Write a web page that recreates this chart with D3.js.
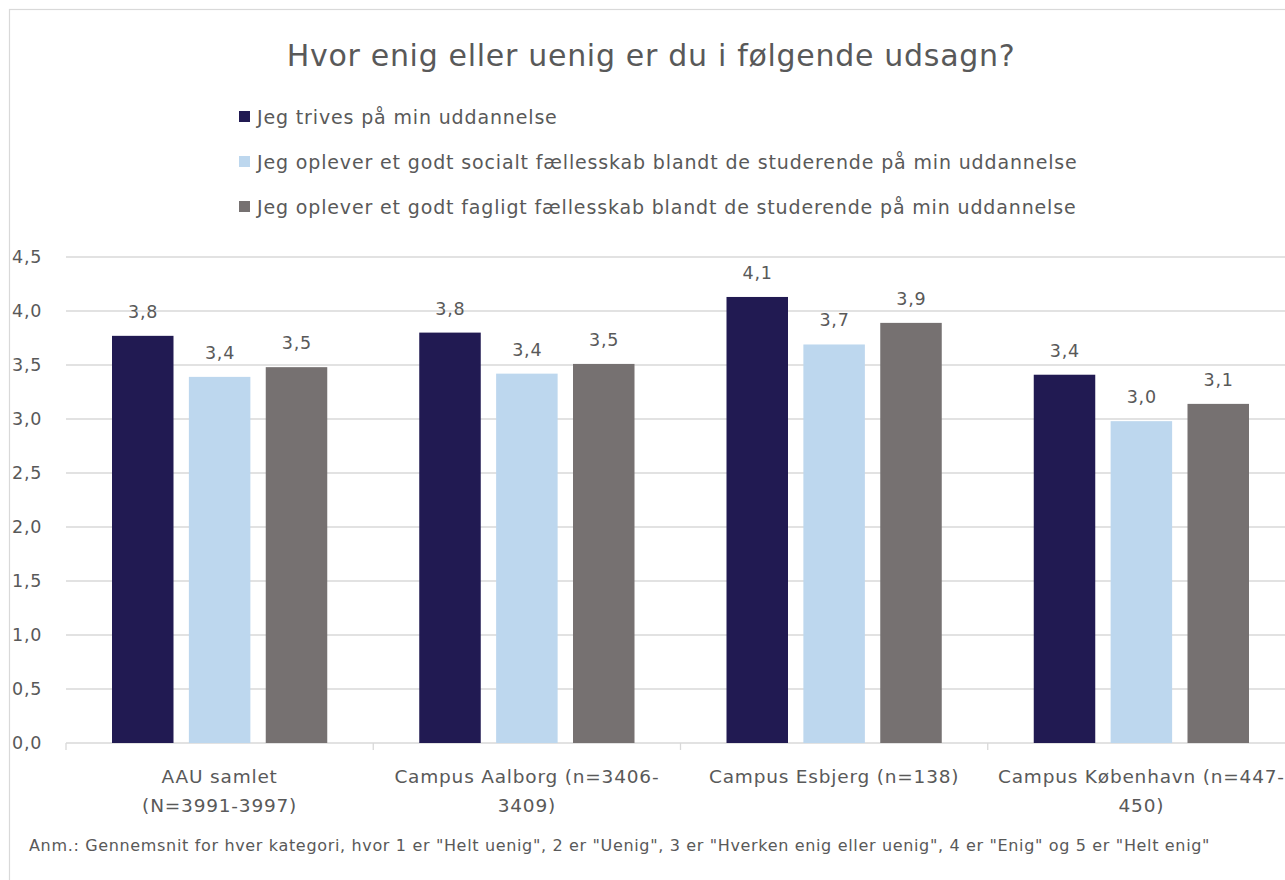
<!DOCTYPE html>
<html>
<head>
<meta charset="utf-8">
<script src="https://cdn.jsdelivr.net/npm/d3@7"></script>
<style>
html,body{margin:0;padding:0;background:#fff;overflow:hidden;}
svg{display:block;}
text{font-family:"DejaVu Sans",sans-serif;fill:#595959;letter-spacing:0.8px;}
</style>
</head>
<body>
<svg id="chart" width="1285" height="880"></svg>
<script>
const title = "Hvor enig eller uenig er du i følgende udsagn?";
const categories = ["AAU samlet", "Campus Aalborg", "Campus Esbjerg", "Campus København"];
const categoryLabelLines = [
  ["AAU samlet", "(N=3991-3997)"],
  ["Campus Aalborg (n=3406-", "3409)"],
  ["Campus Esbjerg (n=138)"],
  ["Campus København (n=447-", "450)"]
];
const seriesNames = [
  "Jeg trives på min uddannelse",
  "Jeg oplever et godt socialt fællesskab blandt de studerende på min uddannelse",
  "Jeg oplever et godt fagligt fællesskab blandt de studerende på min uddannelse"
];
const trives = [3.77, 3.80, 4.13, 3.41];
const socialt = [3.39, 3.42, 3.69, 2.98];
const fagligt = [3.48, 3.51, 3.89, 3.14];
const seriesColors = ["#211A52", "#BDD7EE", "#767171"];
const yTicks = [0, 0.5, 1, 1.5, 2, 2.5, 3, 3.5, 4, 4.5];
const note = "Anm.: Gennemsnit for hver kategori, hvor 1 er \"Helt uenig\", 2 er \"Uenig\", 3 er \"Hverken enig eller uenig\", 4 er \"Enig\" og 5 er \"Helt enig\"";

const seriesValues = [trives, socialt, fagligt];
const fmt = v => d3.format(".1f")(v).replace(".", ",");

const svg = d3.select("#chart");

// frame
svg.append("rect").attr("x", 9.5).attr("y", 9.5).attr("width", 1300).attr("height", 900)
  .attr("fill", "#fff").attr("stroke", "#D9D9D9").attr("stroke-width", 1.2);

// title
svg.append("text").attr("x", 651).attr("y", 66).attr("text-anchor", "middle")
  .style("font-size", "30px").style("letter-spacing", "0.7px").text(title);

// legend
const legendY = [117, 162, 207];
seriesNames.forEach((n, i) => {
  svg.append("rect").attr("x", 239).attr("y", legendY[i] - 6).attr("width", 11).attr("height", 11)
    .attr("fill", seriesColors[i]);
  svg.append("text").attr("x", 257).attr("y", legendY[i] + 7).style("font-size", "19px")
    .style("letter-spacing", "0.85px").text(n);
});

const x0 = d3.scaleBand().domain(categories).range([66, 1295]).paddingInner(0).paddingOuter(0);
const y = d3.scaleLinear().domain([0, 4.5]).range([743, 257]);
const x1 = d3.scaleBand().domain([0, 1, 2]).range([46, x0.bandwidth() - 46]).paddingInner(0.2).paddingOuter(0);

// gridlines
svg.append("g").selectAll("line").data(yTicks).join("line")
  .attr("x1", 66).attr("x2", 1295)
  .attr("y1", d => y(d)).attr("y2", d => y(d))
  .attr("stroke", "#D9D9D9").attr("stroke-width", 1.3);

// y axis labels
svg.append("g").selectAll("text").data(yTicks).join("text")
  .attr("x", 12).attr("y", d => y(d) + 6)
  .style("font-size", "17.5px").text(d => fmt(d));

// category ticks
const boundaries = categories.map(c => x0(c)).concat([x0.range()[1]]);
svg.append("g").selectAll("line").data(boundaries).join("line")
  .attr("x1", d => d).attr("x2", d => d).attr("y1", 743).attr("y2", 750)
  .attr("stroke", "#D9D9D9").attr("stroke-width", 1.3);

// bars
categories.forEach((c, ci) => {
  const g = svg.append("g").attr("transform", `translate(${x0(c)},0)`);
  seriesValues.forEach((vals, si) => {
    const v = vals[ci];
    g.append("rect").attr("x", x1(si)).attr("y", y(v)).attr("width", x1.bandwidth())
      .attr("height", y(0) - y(v)).attr("fill", seriesColors[si]);
    g.append("text").attr("x", x1(si) + x1.bandwidth() / 2 + 0.4).attr("y", y(v) - 18)
      .attr("text-anchor", "middle").style("font-size", "17.5px").text(fmt(v));
  });
});

// category labels
categories.forEach((c, ci) => {
  const t = svg.append("text").attr("text-anchor", "middle").style("font-size", "18.5px");
  categoryLabelLines[ci].forEach((line, li) => {
    t.append("tspan").attr("x", x0(c) + x0.bandwidth() / 2).attr("y", 783 + li * 29).text(line);
  });
});

// note
svg.append("text").attr("x", 29).attr("y", 851).style("font-size", "16px")
  .style("letter-spacing", "0.66px").text(note);
</script>
</body>
</html>
